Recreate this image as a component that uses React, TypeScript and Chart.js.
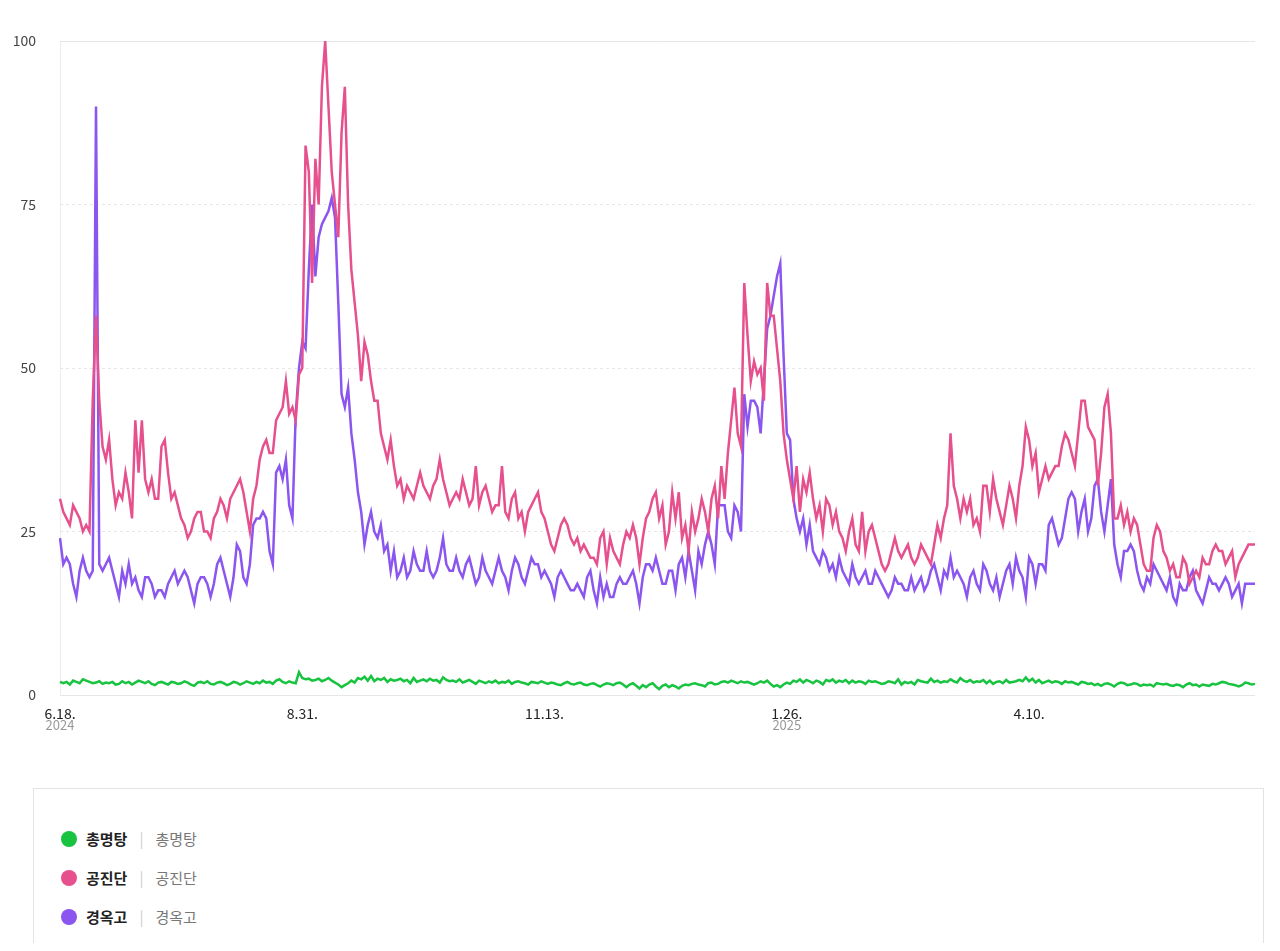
import { useEffect, useRef } from "react";
import { Chart, registerables } from "chart.js";

Chart.register(...registerables);

// daily points, 2024-06-18 .. 2025-06-18
const startDate = new Date(2024, 5, 18);
const dayCount = 366;
const dates = Array.from({ length: dayCount }, (_, i) => {
  const d = new Date(startDate.getFullYear(), startDate.getMonth(), startDate.getDate() + i);
  return `${d.getMonth() + 1}.${d.getDate()}.`;
});
const tickEvery = 74;
const gridEvery = 37;
const yearLabels: Record<number, string> = { 0: "2024", 222: "2025" };

const seriesNames = ["총명탕", "공진단", "경옥고"];
const seriesColors = ["#17c33f", "#e6508d", "#8b55ef"];

const green1 = [2, 1.8, 2, 1.6, 2.2, 2, 1.8, 2.4, 2.2, 2, 1.8, 1.9, 2.1, 1.7, 1.9, 1.8, 2, 1.6, 1.7, 2.1, 1.8, 2, 1.6, 1.9, 2.2, 2, 1.8, 2.1, 1.7, 1.5, 1.9, 2, 1.8, 1.6, 2, 1.9, 1.7];
const green2 = [1.8, 2.1, 1.9, 1.6, 1.4, 1.9, 2, 1.8, 2.1, 1.7, 1.6, 1.9, 2, 1.8, 1.5, 1.7, 2, 1.9, 1.6, 1.8, 2.1, 1.9, 1.7, 2, 1.8, 2.2, 1.9, 2, 1.7, 2.2, 2.4, 2, 1.8, 2.1, 1.9, 1.8, 3.5];
const green3 = [2.6, 2.4, 2.5, 2.2, 2.3, 2.5, 2.1, 2.3, 2.6, 2.2, 1.9, 1.6, 1.2, 1.5, 1.8, 2.2, 1.9, 2.6, 2.4, 2.8, 2.2, 2.9, 2.1, 2.5, 2.3, 2.6, 2, 2.4, 2.2, 2.3, 2.5, 2.1, 2.3, 1.8, 2.6, 2, 2.2];
const green4 = [2.4, 2.1, 2.5, 2.2, 2.3, 1.9, 2.7, 2.3, 2.1, 2.2, 2, 2.4, 1.9, 2.1, 2.3, 2, 1.7, 2.2, 2, 1.8, 2.1, 1.9, 2.2, 1.8, 2, 1.9, 2.2, 1.7, 2, 2.1, 1.9, 1.8, 1.6, 2, 1.9, 1.8, 2.1];
const green5 = [1.9, 1.7, 1.9, 1.8, 1.6, 1.5, 1.8, 2, 1.7, 1.6, 1.8, 1.9, 1.6, 1.5, 1.7, 1.8, 1.5, 1.3, 1.6, 1.8, 1.7, 1.5, 1.8, 1.9, 1.6, 1.2, 1.6, 1.8, 1.4, 1, 1.5, 1.2, 1.6, 1.8, 1.3, 0.9, 1.4];
const green6 = [1.6, 1.2, 1.5, 1.3, 1, 1.4, 1.6, 1.5, 1.7, 1.8, 1.6, 1.5, 1.3, 1.8, 1.9, 1.6, 1.7, 2, 2.1, 1.9, 2.2, 2, 1.8, 2.1, 1.9, 2, 1.8, 1.6, 1.8, 2.1, 1.9, 2.2, 1.7, 1.3, 1.5, 1.2, 1.6];
const green7 = [1.9, 1.7, 2.2, 2, 2.4, 1.9, 2.3, 2.1, 1.8, 2.2, 2, 1.6, 2.3, 2.1, 2.4, 1.9, 2.2, 2, 2.3, 1.8, 2.2, 1.9, 2.1, 2, 1.7, 2.2, 2, 2.1, 1.9, 1.7, 1.8, 2.1, 2, 1.8, 2.4, 1.6, 2];
const green8 = [1.8, 2, 1.6, 2.3, 2.1, 2, 1.9, 2.5, 2, 2.2, 1.9, 2.1, 2, 2.4, 2.1, 1.9, 2.6, 2.2, 2, 2.3, 1.9, 2.1, 2, 2.3, 1.8, 2.2, 1.7, 2, 2.1, 1.8, 2.3, 1.9, 2, 2.1, 2.3, 2.1, 2.7];
const green9 = [2.1, 2.5, 1.9, 2.3, 1.8, 2, 2.2, 1.9, 2.1, 2, 1.7, 2.1, 1.9, 2, 1.8, 1.6, 2, 1.9, 1.7, 1.8, 1.5, 1.7, 1.4, 1.7, 1.8, 1.6, 1.3, 1.7, 1.9, 1.8, 1.5, 1.6, 1.8, 1.7, 1.4, 1.6, 1.5];
const green10 = [1.6, 1.3, 1.8, 1.7, 1.6, 1.7, 1.5, 1.4, 1.6, 1.5, 1.2, 1.6, 1.8, 1.5, 1.6, 1.3, 1.6, 1.5, 1.4, 1.7, 1.6, 1.8, 2, 1.9, 1.7, 1.6, 1.5, 1.3, 1.5, 1.9, 1.8, 1.6, 1.7];

const pink1 = [30, 28, 27, 26, 29, 28, 27, 25, 26, 25, 45, 58, 45, 38, 36, 39, 33, 29, 31, 30, 34, 31, 27, 42, 34, 42, 33, 31, 33, 30, 30, 38, 39, 34, 30, 31, 29];
const pink2 = [27, 26, 24, 25, 27, 28, 28, 25, 25, 24, 27, 28, 30, 29, 27, 30, 31, 32, 33, 31, 28, 25, 30, 32, 36, 38, 39, 37, 37, 42, 43, 44, 48, 43, 44, 42, 49];
const pink3 = [50, 84, 80, 63, 82, 75, 93, 100, 90, 80, 75, 70, 86, 93, 75, 65, 60, 55, 48, 54, 52, 48, 45, 45, 40, 38, 36, 39, 35, 32, 33, 30, 32, 31, 30, 32, 34];
const pink4 = [32, 31, 30, 32, 33, 36, 33, 31, 29, 30, 31, 30, 33, 31, 29, 30, 35, 29, 31, 32, 30, 28, 29, 29, 35, 28, 27, 30, 31, 27, 28, 25, 28, 29, 30, 31, 28];
const pink5 = [27, 25, 23, 22, 24, 26, 27, 26, 24, 23, 24, 22, 23, 22, 21, 21, 20, 24, 25, 20, 24, 22, 21, 20, 23, 25, 24, 26, 24, 20, 24, 27, 28, 30, 31, 27, 29];
const pink6 = [23, 25, 31, 27, 31, 24, 26, 22, 28, 25, 27, 30, 28, 25, 30, 32, 27, 35, 30, 37, 42, 47, 40, 38, 63, 55, 48, 51, 49, 50, 45, 63, 58, 58, 53, 48, 40];
const pink7 = [36, 33, 30, 35, 28, 33, 31, 34, 30, 27, 29, 25, 30, 29, 26, 28, 25, 24, 22, 25, 27, 23, 22, 28, 22, 25, 26, 24, 22, 20, 19, 20, 22, 24, 22, 21, 22];
const pink8 = [23, 21, 20, 21, 23, 22, 21, 20, 23, 26, 24, 27, 29, 40, 32, 30, 27, 30, 28, 30, 26, 27, 25, 32, 32, 28, 33, 30, 28, 26, 29, 32, 30, 27, 32, 35, 41];
const pink9 = [39, 35, 37, 31, 33, 35, 33, 34, 35, 35, 38, 40, 39, 37, 35, 40, 45, 45, 41, 40, 39, 32, 37, 44, 46, 40, 27, 27, 29, 26, 28, 25, 27, 26, 23, 20, 19];
const pink10 = [19, 24, 26, 25, 22, 21, 19, 20, 18, 18, 21, 20, 17, 18, 19, 18, 21, 20, 20, 22, 23, 22, 22, 20, 21, 22, 18, 20, 21, 22, 23, 23, 23];

const purple1 = [24, 20, 21, 20, 17, 15, 19, 21, 19, 18, 19, 90, 20, 19, 20, 21, 19, 17, 15, 19, 17, 20, 17, 18, 16, 15, 18, 18, 17, 15, 16, 16, 15, 17, 18, 19, 17];
const purple2 = [18, 19, 18, 16, 14, 17, 18, 18, 17, 15, 17, 20, 21, 19, 17, 15, 18, 23, 22, 18, 17, 20, 26, 27, 27, 28, 27, 22, 20, 34, 35, 33, 36, 29, 27, 43, 50];
const purple3 = [54, 53, 65, 75, 64, 70, 72, 73, 74, 76, 73, 60, 46, 44, 47, 40, 36, 31, 28, 23, 26, 28, 25, 24, 26, 22, 23, 19, 22, 18, 19, 21, 18, 19, 22, 20, 19];
const purple4 = [19, 22, 19, 18, 19, 21, 24, 20, 19, 19, 21, 19, 18, 20, 21, 19, 17, 18, 21, 19, 18, 17, 19, 21, 19, 18, 16, 19, 21, 20, 18, 17, 19, 21, 20, 20, 18];
const purple5 = [19, 18, 17, 15, 18, 19, 18, 17, 16, 16, 17, 16, 15, 18, 19, 16, 14, 18, 15, 17, 15, 15, 17, 18, 17, 17, 18, 19, 17, 14, 18, 20, 20, 19, 21, 19, 17];
const purple6 = [17, 19, 19, 16, 20, 21, 18, 22, 19, 16, 22, 20, 23, 25, 23, 20, 29, 29, 29, 25, 24, 29, 28, 25, 46, 41, 45, 45, 44, 40, 48, 56, 58, 61, 64, 66, 52];
const purple7 = [40, 39, 30, 27, 25, 27, 23, 26, 22, 21, 20, 22, 21, 19, 20, 18, 21, 19, 18, 17, 20, 18, 17, 18, 19, 17, 17, 19, 18, 17, 16, 15, 16, 18, 17, 17, 16];
const purple8 = [16, 18, 16, 17, 18, 16, 17, 19, 20, 18, 16, 19, 18, 21, 18, 19, 18, 17, 15, 18, 19, 17, 16, 20, 19, 17, 16, 18, 15, 17, 19, 20, 17, 21, 19, 18, 15];
const purple9 = [21, 20, 17, 20, 20, 19, 26, 27, 25, 23, 24, 27, 30, 31, 30, 25, 28, 30, 25, 27, 32, 33, 28, 25, 29, 33, 23, 20, 18, 22, 22, 23, 22, 19, 17, 16, 18];
const purple10 = [17, 20, 19, 18, 17, 16, 18, 15, 14, 17, 16, 16, 18, 19, 16, 15, 14, 16, 18, 17, 17, 16, 17, 18, 17, 15, 16, 17, 14, 17, 17, 17, 17];

const greenValues = [...green1, ...green2, ...green3, ...green4, ...green5, ...green6, ...green7, ...green8, ...green9, ...green10];
const pinkValues = [...pink1, ...pink2, ...pink3, ...pink4, ...pink5, ...pink6, ...pink7, ...pink8, ...pink9, ...pink10];
const purpleValues = [...purple1, ...purple2, ...purple3, ...purple4, ...purple5, ...purple6, ...purple7, ...purple8, ...purple9, ...purple10];
const seriesValues = [greenValues, pinkValues, purpleValues];

const yearPlugin = {
  id: "yearLabels",
  afterDraw(chart: any) {
    const { ctx, scales } = chart;
    ctx.save();
    ctx.font = "13px 'Noto Sans CJK KR', 'Noto Sans', sans-serif";
    ctx.fillStyle = "#999";
    ctx.textAlign = "center";
    ctx.textBaseline = "top";
    Object.keys(yearLabels).forEach((k) => {
      const x = scales.x.getPixelForValue(Number(k));
      ctx.fillText(yearLabels[Number(k)], x, scales.x.bottom - 32);
    });
    ctx.restore();
  },
};

const TrendChart = () => {
  const chartRef = useRef<HTMLCanvasElement | null>(null);
  const chartInstance = useRef<Chart | null>(null);

  useEffect(() => {
    if (chartInstance.current) chartInstance.current.destroy();
    if (!chartRef.current) return;

    chartInstance.current = new Chart(chartRef.current, {
      type: "line",
      data: {
        labels: dates,
        datasets: seriesNames.map((name, i) => ({
          label: name,
          data: seriesValues[i],
          borderColor: seriesColors[i],
          borderWidth: 2.5,
          pointRadius: 0,
          tension: 0,
          fill: false,
        })),
      },
      plugins: [yearPlugin],
      options: {
        animation: false,
        responsive: true,
        maintainAspectRatio: false,
        layout: { padding: { top: 33, right: 17, left: 0, bottom: 0 } },
        plugins: { legend: { display: false }, tooltip: { enabled: false } },
        scales: {
          x: {
            offset: false,
            afterFit: (scale: any) => {
              scale.height = 56;
            },
            border: { display: false },
            grid: {
              drawTicks: false,
              color: (ctx: any) => (ctx.index % gridEvery === 0 ? "#ececec" : "transparent"),
            },
            ticks: {
              autoSkip: false,
              maxRotation: 0,
              padding: 10,
              color: "#222",
              font: { size: 14, family: "'Noto Sans CJK KR', 'Noto Sans', sans-serif" },
              callback: (_v: any, i: number) => (i % tickEvery === 0 ? dates[i] : null),
            },
          },
          y: {
            min: 0,
            max: 100,
            afterFit: (scale: any) => {
              scale.width = 52;
            },
            border: {
              display: false,
              dash: (ctx: any) => (ctx.tick && ctx.tick.value > 0 && ctx.tick.value < 100 ? [3, 3] : []),
            },
            grid: { drawTicks: false, color: "#e6e6e6" },
            ticks: {
              stepSize: 25,
              padding: 24,
              color: "#444",
              font: { size: 14, family: "'Noto Sans CJK KR', 'Noto Sans', sans-serif" },
            },
          },
        },
      },
    });

    return () => {
      if (chartInstance.current) {
        chartInstance.current.destroy();
        chartInstance.current = null;
      }
    };
  }, []);

  return (
    <div style={{ width: "1264px", height: "743px", position: "relative" }}>
      <canvas ref={chartRef} />
    </div>
  );
};

const Legend = () => (
  <div
    style={{
      position: "absolute",
      left: 25,
      top: 780,
      width: 1231,
      height: 160,
      border: "1px solid #e3e3e3",
      boxSizing: "border-box",
      paddingTop: 30,
      paddingLeft: 27,
      fontFamily: "'Noto Sans CJK KR', 'Noto Sans', sans-serif",
    }}
  >
    {seriesNames.map((name, i) => (
      <div key={name} style={{ display: "flex", alignItems: "center", height: 39, fontSize: 15 }}>
        <span
          style={{
            width: 16,
            height: 16,
            borderRadius: "50%",
            background: seriesColors[i],
            display: "inline-block",
            marginRight: 9,
          }}
        />
        <span style={{ fontWeight: 700, color: "#222" }}>{name}</span>
        <span style={{ color: "#ccc", margin: "0 12px" }}>|</span>
        <span style={{ color: "#777" }}>{name}</span>
      </div>
    ))}
  </div>
);

export default function App() {
  return (
    <div style={{ position: "relative", width: 1264, height: 935 }}>
      <TrendChart />
      <Legend />
    </div>
  );
}
